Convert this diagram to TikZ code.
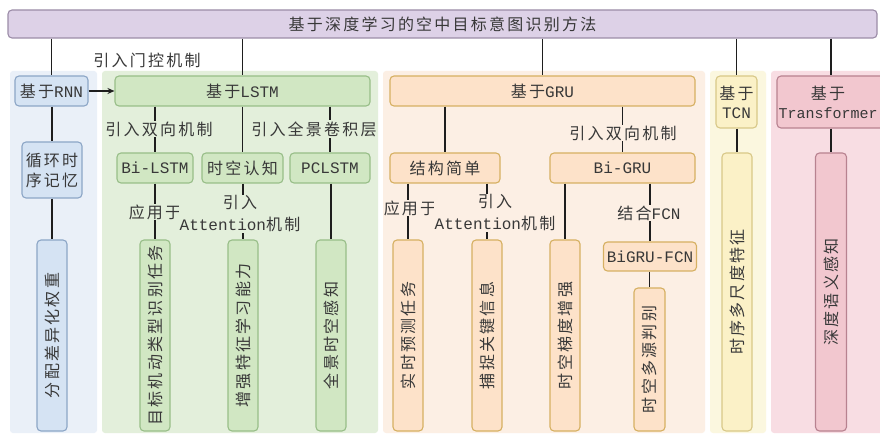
\documentclass[tikz,border=0pt]{standalone}
\usepackage{fontspec}
\setmainfont{Noto Sans CJK SC}[LetterSpace=14]
\newfontfamily\latf{Liberation Mono}
\newcommand{\La}[1]{{\latf #1}}
\usetikzlibrary{arrows.meta}
\definecolor{txt}{HTML}{383838}
\definecolor{lin}{HTML}{1E1E1E}
\definecolor{purfill}{HTML}{DDD1E7}
\definecolor{purdraw}{HTML}{9C8CA8}
\definecolor{bpanel}{HTML}{EAF0F8}
\definecolor{bfill}{HTML}{D5E3F3}
\definecolor{bdraw}{HTML}{8CA6C6}
\definecolor{gpanel}{HTML}{E3EFDB}
\definecolor{gfill}{HTML}{D1E7C3}
\definecolor{gdraw}{HTML}{98BE88}
\definecolor{opanel}{HTML}{FCEFE4}
\definecolor{ofill}{HTML}{FDE2C9}
\definecolor{odraw}{HTML}{D6B062}
\definecolor{ypanel}{HTML}{FBF7DF}
\definecolor{yfill}{HTML}{FBF1C7}
\definecolor{ydraw}{HTML}{D8C888}
\definecolor{ppanel}{HTML}{F8DDE3}
\definecolor{pfill}{HTML}{F2C7CF}
\definecolor{pdraw}{HTML}{B88290}
\begin{document}
\begin{tikzpicture}[x=1pt,y=-1pt,
  every node/.style={font=\fontsize{16}{22}\selectfont, text=txt},
  bx/.style={draw, rounded corners=4pt, line width=1.1pt, inner sep=0pt, align=center},
  purb/.style={bx, fill=purfill, draw=purdraw},
  blueb/.style={bx, fill=bfill, draw=bdraw},
  greenb/.style={bx, fill=gfill, draw=gdraw},
  orangeb/.style={bx, fill=ofill, draw=odraw},
  yellowb/.style={bx, fill=yfill, draw=ydraw},
  pinkb/.style={bx, fill=pfill, draw=pdraw},
  con/.style={line width=1.4pt, draw=lin},
  lbl/.style={inner sep=1pt, align=center}]
\useasboundingbox (0,0) rectangle (880,435);
\fill[white] (0,0) rectangle (880,435);
% panels
\fill[bpanel, rounded corners=3pt] (10,71) rectangle (97,433);
\fill[gpanel, rounded corners=3pt] (102,71) rectangle (378,433);
\fill[opanel, rounded corners=3pt] (383,71) rectangle (705,433);
\fill[ypanel, rounded corners=3pt] (710,71) rectangle (766,433);
\fill[ppanel, rounded corners=3pt] (771,71) rectangle (884,433);
% top
\node[purb, minimum width=869pt, minimum height=28pt] (top) at (442.5,24) {基于深度学习的空中目标意图识别方法};
% level 1
\node[blueb, minimum width=73pt, minimum height=30pt] (rnn) at (51.5,91) {基于\La{RNN}};
\node[greenb, minimum width=255pt, minimum height=30pt] (lstm) at (242.5,91) {基于\La{LSTM}};
\node[orangeb, minimum width=305pt, minimum height=30pt] (gru) at (542.5,91) {基于\La{GRU}};
\node[yellowb, minimum width=41pt, minimum height=52pt] (tcn) at (736.5,102) {基于\\[-3pt]\La{TCN}};
\node[pinkb, minimum width=108pt, minimum height=52pt] (trf) at (831,102) {};
\node[lbl] (trft) at (828,102) {基于\\[-3pt]{\latf\fontsize{15}{20}\selectfont Transformer}};
% level 2
\node[blueb, minimum width=60pt, minimum height=56pt] (rnnm) at (52,170) {循环时\\[-2pt]序记忆};
\node[greenb, minimum width=76pt, minimum height=30pt] (bil) at (155,168) {\La{Bi-LSTM}};
\node[greenb, minimum width=81pt, minimum height=30pt] (skrz) at (242.5,168) {时空认知};
\node[greenb, minimum width=80pt, minimum height=30pt] (pcl) at (330,168) {\La{PCLSTM}};
\node[orangeb, minimum width=110pt, minimum height=30pt] (jgjd) at (445,168) {结构简单};
\node[orangeb, minimum width=145pt, minimum height=30pt] (bigru) at (622.5,168) {\La{Bi-GRU}};
\node[yellowb, minimum width=30pt, minimum height=278pt] (ts) at (737,292) {\rotatebox{90}{时序多尺度特征}};
\node[pinkb, minimum width=31pt, minimum height=278pt] (sd) at (831,292) {\rotatebox{90}{深度语义感知}};
% level 3
\node[blueb, minimum width=30pt, minimum height=191pt] (fp) at (52,335.5) {\rotatebox{90}{分配差异化权重}};
\node[greenb, minimum width=30pt, minimum height=191pt] (mb) at (155,335.5) {\rotatebox{90}{目标机动类型识别任务}};
\node[greenb, minimum width=30pt, minimum height=191pt] (zq) at (243,335.5) {\rotatebox{90}{增强特征学习能力}};
\node[greenb, minimum width=30pt, minimum height=191pt] (qj) at (331,335.5) {\rotatebox{90}{全景时空感知}};
\node[orangeb, minimum width=30pt, minimum height=191pt] (ss) at (408,335.5) {\rotatebox{90}{实时预测任务}};
\node[orangeb, minimum width=30pt, minimum height=191pt] (bz) at (487,335.5) {\rotatebox{90}{捕捉关键信息}};
\node[orangeb, minimum width=30pt, minimum height=191pt] (tdzq) at (565,335.5) {\rotatebox{90}{时空梯度增强}};
\node[orangeb, minimum width=93pt, minimum height=29pt] (bfcn) at (650,256.5) {\La{BiGRU-FCN}};
\node[orangeb, minimum width=31pt, minimum height=143pt] (dy) at (649.5,359.5) {\rotatebox{90}{时空多源判别}};
% connectors
\draw[con] (rnn.north |- top.south) -- (rnn.north);
\draw[con] (lstm.north |- top.south) -- (lstm.north);
\draw[con] (gru.north |- top.south) -- (gru.north);
\draw[con] (tcn.north |- top.south) -- (tcn.north);
\draw[con] (trf.north |- top.south) -- (trf.north);
\draw[con, -{Stealth[length=7pt,width=6pt]}] (rnn.east) -- (lstm.west);
\draw[con] (rnnm.north |- rnn.south) -- (rnnm.north);
\draw[con] (fp.north |- rnnm.south) -- (fp.north);
\draw[con] (bil.north |- lstm.south) -- (bil.north);
\draw[con] (skrz.north |- lstm.south) -- (skrz.north);
\draw[con] (pcl.north |- lstm.south) -- (pcl.north);
\draw[con] (mb.north |- bil.south) -- (mb.north);
\draw[con] (zq.north |- skrz.south) -- (zq.north);
\draw[con] (qj.north |- pcl.south) -- (qj.north);
\draw[con] (jgjd.north |- gru.south) -- (jgjd.north);
\draw[con] (bigru.north |- gru.south) -- (bigru.north);
\draw[con] (ss.north |- jgjd.south) -- (ss.north);
\draw[con] (bz.north |- jgjd.south) -- (bz.north);
\draw[con] (tdzq.north |- bigru.south) -- (tdzq.north);
\draw[con] (bfcn.north |- bigru.south) -- (bfcn.north);
\draw[con] (dy.north |- bfcn.south) -- (dy.north);
\draw[con] (ts.north |- tcn.south) -- (ts.north);
\draw[con] (sd.north |- trf.south) -- (sd.north);
% labels
\node[lbl] (l0) at (147,60) {引入门控机制};
\node[lbl, fill=gpanel] (l1) at (159,129) {引入双向机制};
\node[lbl, fill=gpanel] (l2) at (314,129) {引入全景卷积层};
\node[lbl, fill=gpanel] (l3) at (155,212) {应用于};
\node[lbl, fill=gpanel] (l4) at (240,214) {引入\\\La{Attention}机制};
\node[lbl, fill=opanel] (l5) at (623,133) {引入双向机制};
\node[lbl, fill=opanel] (l6) at (410,208) {应用于};
\node[lbl, fill=opanel] (l7) at (495,213) {引入\\\La{Attention}机制};
\node[lbl, fill=opanel] (l8) at (649,213) {结合\La{FCN}};
\end{tikzpicture}
\end{document}
